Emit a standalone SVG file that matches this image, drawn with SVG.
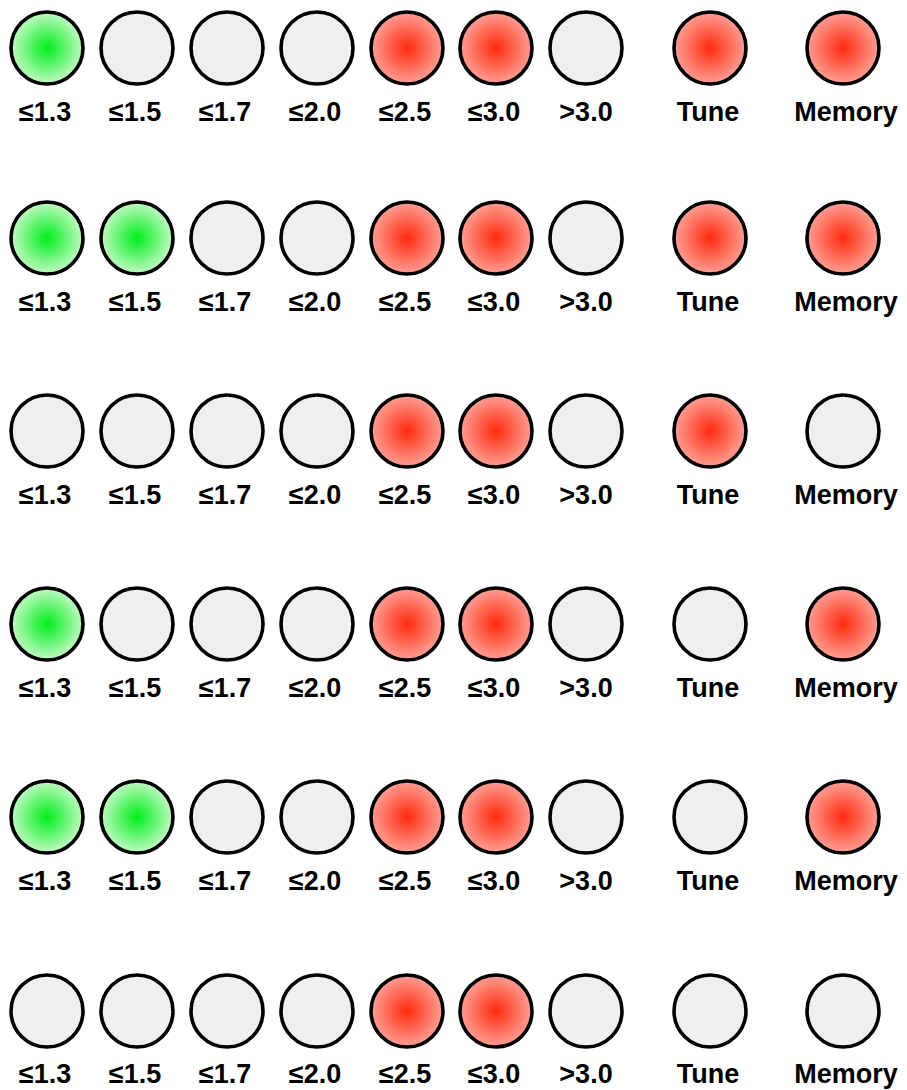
<svg xmlns="http://www.w3.org/2000/svg" width="907" height="1090" viewBox="0 0 907 1090">
<defs>
<radialGradient id="gG" cx="50%" cy="50%" r="50%">
<stop offset="0" stop-color="#00ee1c"/>
<stop offset="1" stop-color="#c2fac2"/>
</radialGradient>
<radialGradient id="gR" cx="50%" cy="50%" r="50%">
<stop offset="0" stop-color="#ff2a0e"/>
<stop offset="1" stop-color="#ff9f94"/>
</radialGradient>
</defs>
<style>
circle{stroke:#000;stroke-width:3.6}
.o{fill:#efefef}
.g{fill:url(#gG)}
.r{fill:url(#gR)}
text{font-family:"Liberation Sans",Arial,sans-serif;font-weight:bold;font-size:27px;text-anchor:middle;fill:#000}
</style>
<rect width="907" height="1090" fill="#fff"/>
<g id="connectors"/>
<g id="row1">
<g id="r1c1"><circle cx="47" cy="48" r="36" class="g"/><text x="45" y="121">≤1.3</text></g>
<g id="r1c2"><circle cx="137" cy="48" r="36" class="o"/><text x="135" y="121">≤1.5</text></g>
<g id="r1c3"><circle cx="227" cy="48" r="36" class="o"/><text x="225" y="121">≤1.7</text></g>
<g id="r1c4"><circle cx="317" cy="48" r="36" class="o"/><text x="315" y="121">≤2.0</text></g>
<g id="r1c5"><circle cx="407" cy="48" r="36" class="r"/><text x="405" y="121">≤2.5</text></g>
<g id="r1c6"><circle cx="496" cy="48" r="36" class="r"/><text x="494" y="121">≤3.0</text></g>
<g id="r1c7"><circle cx="586" cy="48" r="36" class="o"/><text x="586" y="121">&gt;3.0</text></g>
<g id="r1c8"><circle cx="710" cy="48" r="36" class="r"/><text x="708" y="121">Tune</text></g>
<g id="r1c9"><circle cx="843" cy="48" r="36" class="r"/><text x="846" y="121">Memory</text></g>
</g>
<g id="row2">
<g id="r2c1"><circle cx="47" cy="238" r="36" class="g"/><text x="45" y="311">≤1.3</text></g>
<g id="r2c2"><circle cx="137" cy="238" r="36" class="g"/><text x="135" y="311">≤1.5</text></g>
<g id="r2c3"><circle cx="227" cy="238" r="36" class="o"/><text x="225" y="311">≤1.7</text></g>
<g id="r2c4"><circle cx="317" cy="238" r="36" class="o"/><text x="315" y="311">≤2.0</text></g>
<g id="r2c5"><circle cx="407" cy="238" r="36" class="r"/><text x="405" y="311">≤2.5</text></g>
<g id="r2c6"><circle cx="496" cy="238" r="36" class="r"/><text x="494" y="311">≤3.0</text></g>
<g id="r2c7"><circle cx="586" cy="238" r="36" class="o"/><text x="586" y="311">&gt;3.0</text></g>
<g id="r2c8"><circle cx="710" cy="238" r="36" class="r"/><text x="708" y="311">Tune</text></g>
<g id="r2c9"><circle cx="843" cy="238" r="36" class="r"/><text x="846" y="311">Memory</text></g>
</g>
<g id="row3">
<g id="r3c1"><circle cx="47" cy="431" r="36" class="o"/><text x="45" y="504">≤1.3</text></g>
<g id="r3c2"><circle cx="137" cy="431" r="36" class="o"/><text x="135" y="504">≤1.5</text></g>
<g id="r3c3"><circle cx="227" cy="431" r="36" class="o"/><text x="225" y="504">≤1.7</text></g>
<g id="r3c4"><circle cx="317" cy="431" r="36" class="o"/><text x="315" y="504">≤2.0</text></g>
<g id="r3c5"><circle cx="407" cy="431" r="36" class="r"/><text x="405" y="504">≤2.5</text></g>
<g id="r3c6"><circle cx="496" cy="431" r="36" class="r"/><text x="494" y="504">≤3.0</text></g>
<g id="r3c7"><circle cx="586" cy="431" r="36" class="o"/><text x="586" y="504">&gt;3.0</text></g>
<g id="r3c8"><circle cx="710" cy="431" r="36" class="r"/><text x="708" y="504">Tune</text></g>
<g id="r3c9"><circle cx="843" cy="431" r="36" class="o"/><text x="846" y="504">Memory</text></g>
</g>
<g id="row4">
<g id="r4c1"><circle cx="47" cy="624" r="36" class="g"/><text x="45" y="697">≤1.3</text></g>
<g id="r4c2"><circle cx="137" cy="624" r="36" class="o"/><text x="135" y="697">≤1.5</text></g>
<g id="r4c3"><circle cx="227" cy="624" r="36" class="o"/><text x="225" y="697">≤1.7</text></g>
<g id="r4c4"><circle cx="317" cy="624" r="36" class="o"/><text x="315" y="697">≤2.0</text></g>
<g id="r4c5"><circle cx="407" cy="624" r="36" class="r"/><text x="405" y="697">≤2.5</text></g>
<g id="r4c6"><circle cx="496" cy="624" r="36" class="r"/><text x="494" y="697">≤3.0</text></g>
<g id="r4c7"><circle cx="586" cy="624" r="36" class="o"/><text x="586" y="697">&gt;3.0</text></g>
<g id="r4c8"><circle cx="710" cy="624" r="36" class="o"/><text x="708" y="697">Tune</text></g>
<g id="r4c9"><circle cx="843" cy="624" r="36" class="r"/><text x="846" y="697">Memory</text></g>
</g>
<g id="row5">
<g id="r5c1"><circle cx="47" cy="817" r="36" class="g"/><text x="45" y="890">≤1.3</text></g>
<g id="r5c2"><circle cx="137" cy="817" r="36" class="g"/><text x="135" y="890">≤1.5</text></g>
<g id="r5c3"><circle cx="227" cy="817" r="36" class="o"/><text x="225" y="890">≤1.7</text></g>
<g id="r5c4"><circle cx="317" cy="817" r="36" class="o"/><text x="315" y="890">≤2.0</text></g>
<g id="r5c5"><circle cx="407" cy="817" r="36" class="r"/><text x="405" y="890">≤2.5</text></g>
<g id="r5c6"><circle cx="496" cy="817" r="36" class="r"/><text x="494" y="890">≤3.0</text></g>
<g id="r5c7"><circle cx="586" cy="817" r="36" class="o"/><text x="586" y="890">&gt;3.0</text></g>
<g id="r5c8"><circle cx="710" cy="817" r="36" class="o"/><text x="708" y="890">Tune</text></g>
<g id="r5c9"><circle cx="843" cy="817" r="36" class="r"/><text x="846" y="890">Memory</text></g>
</g>
<g id="row6">
<g id="r6c1"><circle cx="47" cy="1011" r="36" class="o"/><text x="45" y="1083">≤1.3</text></g>
<g id="r6c2"><circle cx="137" cy="1011" r="36" class="o"/><text x="135" y="1083">≤1.5</text></g>
<g id="r6c3"><circle cx="227" cy="1011" r="36" class="o"/><text x="225" y="1083">≤1.7</text></g>
<g id="r6c4"><circle cx="317" cy="1011" r="36" class="o"/><text x="315" y="1083">≤2.0</text></g>
<g id="r6c5"><circle cx="407" cy="1011" r="36" class="r"/><text x="405" y="1083">≤2.5</text></g>
<g id="r6c6"><circle cx="496" cy="1011" r="36" class="r"/><text x="494" y="1083">≤3.0</text></g>
<g id="r6c7"><circle cx="586" cy="1011" r="36" class="o"/><text x="586" y="1083">&gt;3.0</text></g>
<g id="r6c8"><circle cx="710" cy="1011" r="36" class="o"/><text x="708" y="1083">Tune</text></g>
<g id="r6c9"><circle cx="843" cy="1011" r="36" class="o"/><text x="846" y="1083">Memory</text></g>
</g>
</svg>
